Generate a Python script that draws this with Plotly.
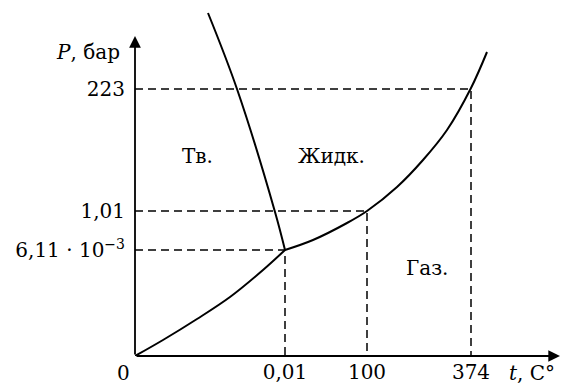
import plotly.graph_objects as go

# schematic phase diagram of water, in diagram units (not to scale)
sub_t = [0, 28, 62, 95, 128, 150]
sub_p = [0, 16, 37, 59, 86, 106]

melt_t = [150, 140, 102, 73]
melt_p = [106, 144, 267, 343]

vap_t = [150, 178, 212, 232, 262, 288, 312, 336, 352]
vap_p = [106, 116, 133, 145, 169, 196, 226, 268, 304]

# marked points: triple point, boiling at 1 bar, critical point
mark_t = [150, 232, 336]
mark_p = [106, 145, 267]
t_labels = ["0,01", "100", "374"]
p_labels = ["6,11 · 10<sup>−3</sup>", "1,01", "223"]

regions = ["Тв.", "Жидк.", "Газ."]
region_t = [62, 196, 292]
region_p = [200, 200, 88]

XMAX, YMAX = 430, 348
font = dict(family="DejaVu Serif", size=20, color="black")

fig = go.Figure()

for t, p in zip(mark_t, mark_p):
    fig.add_trace(go.Scatter(x=[0, t, t], y=[p, p, 0], mode="lines",
                             line=dict(color="black", width=1.5, dash="8px,5px")))

for xs, ys in [(sub_t, sub_p), (melt_t, melt_p), (vap_t, vap_p)]:
    fig.add_trace(go.Scatter(x=xs, y=ys, mode="lines", line_shape="spline",
                             line=dict(color="black", width=2)))

# axes with arrows
for tip in [(425, 0), (0, 320)]:
    fig.add_annotation(x=tip[0], y=tip[1], ax=0, ay=0, xref="x", yref="y", axref="x", ayref="y",
                       text="", showarrow=True, arrowhead=2, arrowsize=1.3, arrowwidth=1.8,
                       arrowcolor="black")

for txt, t, p in zip(regions, region_t, region_p):
    fig.add_annotation(x=t, y=p, text=txt, showarrow=False, font=font)

# texts outside the axis range go in paper coords
fig.add_annotation(x=-12 / XMAX, y=-17 / YMAX, xref="paper", yref="paper", text="0",
                   showarrow=False, font=font, xanchor="center", yanchor="middle")
fig.add_annotation(x=-13 / XMAX, y=304 / YMAX, xref="paper", yref="paper",
                   text="<i>P</i>, бар", showarrow=False, font=font, xanchor="right", yanchor="middle")
fig.add_annotation(x=397 / XMAX, y=-17 / YMAX, xref="paper", yref="paper",
                   text="<i>t</i>, C°", showarrow=False, font=font, xanchor="center", yanchor="middle")

fig.update_xaxes(range=[0, XMAX], tickvals=mark_t, ticktext=t_labels, showgrid=False,
                 zeroline=False, showline=False, ticks="", tickfont=font, ticklabelstandoff=2)
fig.update_yaxes(range=[0, YMAX], tickvals=mark_p, ticktext=p_labels, showgrid=False,
                 zeroline=False, showline=False, ticks="", tickfont=font, ticklabelstandoff=9)

fig.update_layout(width=569, height=384, margin=dict(l=127, r=12, t=0, b=36),
                  showlegend=False, plot_bgcolor="white", paper_bgcolor="white")

fig.write_html("out.html")
